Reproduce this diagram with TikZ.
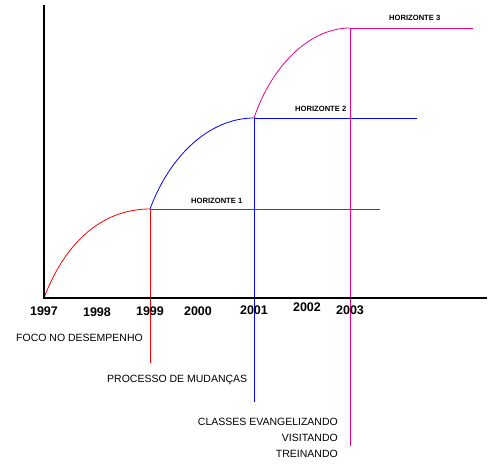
\documentclass[tikz,border=0pt]{standalone}
\usepackage{fontspec}
\setmainfont{Liberation Sans}
\begin{document}
\begin{tikzpicture}[x=1pt,y=-1pt,
  axis/.style={line width=2.6pt,black},
  ln/.style={line width=0.8pt},
  yr/.style={font=\fontsize{12.5}{14}\selectfont\bfseries,inner sep=0pt},
  lbl/.style={font=\fontsize{10.5}{12}\selectfont,inner sep=0pt},
  hz/.style={font=\fontsize{7.6}{9}\selectfont\bfseries,inner sep=0pt}]
\useasboundingbox (0,0) rectangle (490,465);
% key points
\coordinate (O) at (44,298);
\coordinate (Ytop) at (44,5);
\coordinate (Xend) at (487,298);
\coordinate (P1) at (150,209);
\coordinate (P2) at (254,118);
\coordinate (P3) at (350,28);
\coordinate (H1) at (380,209);
\coordinate (H2) at (417,118);
\coordinate (H3) at (473,28);
\coordinate (V1) at (150,363);
\coordinate (V2) at (254,402);
\coordinate (V3) at (350,446);
% horizontals and verticals
\draw[ln,red] (P1) -- (H1);
\draw[ln,blue] (P2) -- (H2);
\draw[ln,magenta] (P3) -- (H3);
\draw[ln,red] (P1) -- (V1);
\draw[ln,blue] (P2) -- (V2);
\draw[ln,magenta] (P3) -- (V3);
% curves
\draw[ln,red] (O) .. controls (64,245) and (100,209) .. (P1);
\draw[ln,blue] (P1) .. controls (170,155) and (210,118) .. (P2);
\draw[ln,magenta] (P2) .. controls (272,65) and (310,28) .. (P3);
% axes
\draw[axis] (Ytop) -- (O) -- (Xend);
% years
\node[yr] (y97) at (44,311) {1997};
\node[yr] (y98) at (97,312) {1998};
\node[yr] (y99) at (150,311) {1999};
\node[yr] (y00) at (198,311) {2000};
\node[yr] (y01) at (254,310) {2001};
\node[yr] (y02) at (307,307) {2002};
\node[yr] (y03) at (350,310) {2003};
% horizon labels
\node[hz,anchor=west] (h1) at (191,201) {HORIZONTE 1};
\node[hz,anchor=west] (h2) at (295,109) {HORIZONTE 2};
\node[hz,anchor=west] (h3) at (389,18) {HORIZONTE 3};
% side labels
\node[lbl,anchor=west] (foco) at (16,338) {FOCO NO DESEMPENHO};
\node[lbl,anchor=west] (proc) at (107,380) {PROCESSO DE MUDANÇAS};
\node[lbl,anchor=east] (cls) at (338,422) {CLASSES EVANGELIZANDO};
\node[lbl,anchor=east] (vis) at (338,438) {VISITANDO};
\node[lbl,anchor=east] (tre) at (338,454) {TREINANDO};
\end{tikzpicture}
\end{document}
